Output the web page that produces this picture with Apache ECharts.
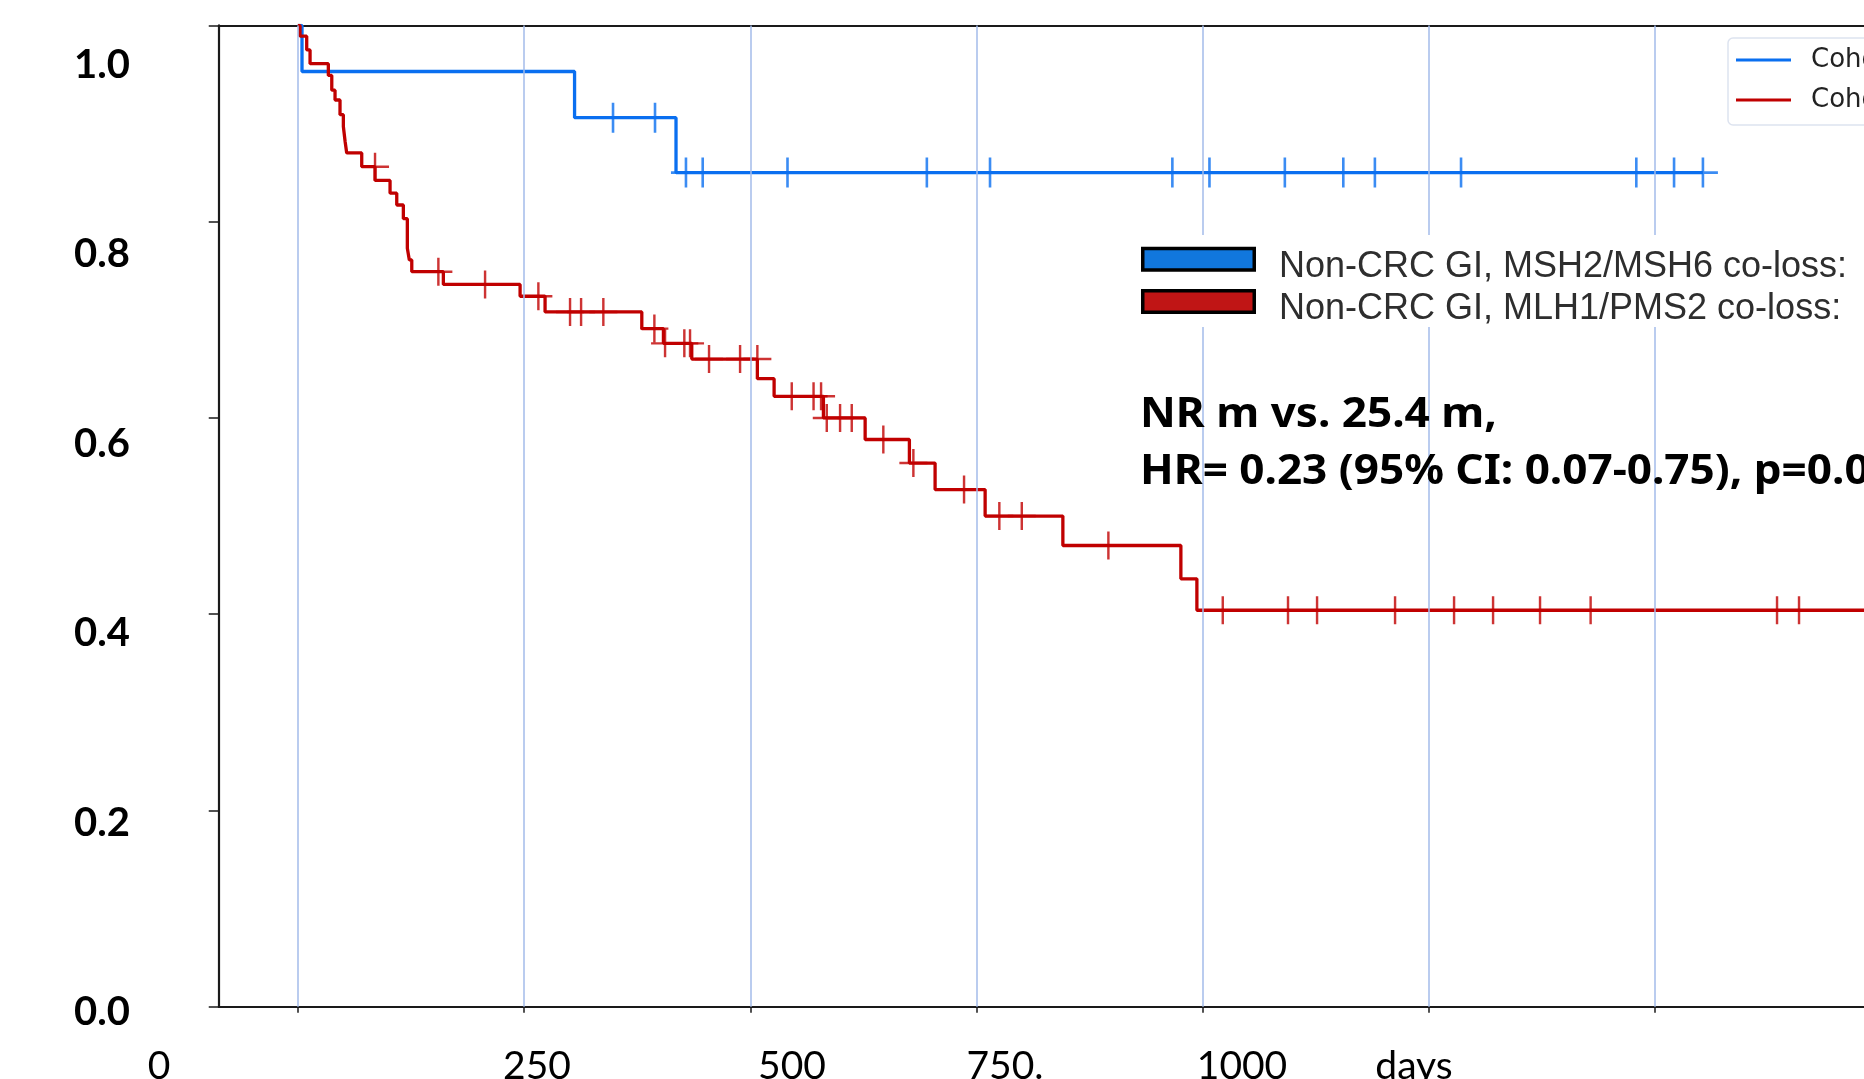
<!DOCTYPE html>
<html>
<head>
<meta charset="utf-8">
<title>Kaplan-Meier</title>
<script src="https://cdn.jsdelivr.net/npm/echarts@6/dist/echarts.min.js"></script>
<style>
  html, body { margin: 0; padding: 0; background: #fff; }
  #chart { width: 1864px; height: 1079px; }
</style>
</head>
<body>
<div id="chart"></div>
<script>
// steps: time in days, survival after each drop
const blueName = 'Cohort 1';
const blueTimes = [4.6, 305.8, 417.9];
const blueSurv = [0.953, 0.906, 0.850];
const blueCensor = [348.3, 394.7, 428.9, 447.4, 541.1, 695.1, 764.9, 966.4, 1007.4, 1090.7,
  1155.3, 1190.2, 1285.4, 1479.1, 1520.8, 1552.7];
const blueEnd = 1552.7;

const redName = 'Cohort 2';
const redTimes = [2.4, 9.8, 13.5, 33.7, 37.5, 41.1, 46.6, 50.3, 52.2, 54.0, 70.6, 85.3, 101.9,
  109.3, 116.6, 121.0, 123.2, 125.9, 160.8, 245.6, 273.2, 380.1, 404.0, 435.3, 507.8, 526.3,
  580.8, 626.9, 675.8, 704.2, 759.5, 845.4, 975.8, 993.5];
const redSurv = [0.989, 0.975, 0.961, 0.949, 0.934, 0.924, 0.909, 0.897, 0.882, 0.870, 0.856,
  0.842, 0.829, 0.817, 0.803, 0.773, 0.761, 0.749, 0.736, 0.724, 0.708, 0.691, 0.676, 0.660,
  0.640, 0.622, 0.600, 0.578, 0.554, 0.527, 0.500, 0.470, 0.436, 0.404];
const redCensor = [85.3, 155.3, 206.9, 265.8, 300.8, 313.0, 337.6, 394.0, 405.8, 427.1, 433.4,
  454.4, 488.7, 507.8, 545.8, 569.9, 578.2, 584.5, 599.2, 612.1, 647.0, 680.2, 736.2, 775.2,
  800.0, 895.7, 1022.1, 1094.2, 1126.3, 1212.5, 1277.7, 1320.8, 1372.7, 1428.6, 1634.6, 1658.9];
const redEnd = 1731;

const xTickDays = [0, 250, 500, 750, 1000, 1250, 1500];
const yTickLabels = ['0.0', '0.2', '0.4', '0.6', '0.8', '1.0'];
const xTickLabels = ['0', '250', '500', '750.', '1000', 'days'];
const insetLabels = ['Non-CRC GI, MSH2/MSH6 co-loss:', 'Non-CRC GI, MLH1/PMS2 co-loss:'];
const noteLines = ['NR m vs. 25.4 m,', 'HR= 0.23 (95% CI: 0.07-0.75), p=0.01'];

// layout (pixels)
const xLabelCenters = [159, 537, 792, 1005, 1242, 1414];
const BLUE = '#0a6ff0';
const RED = '#c00000';
const CROSS = 'path://M13.7,0h2.6v13.7h13.7v2.6h-13.7v13.7h-2.6v-13.7h-13.7v-2.6h13.7z';

function stepData(times, surv, end) {
  const pts = [[0, 1]];
  times.forEach((t, i) => pts.push([t, surv[i]]));
  pts.push([end, surv[surv.length - 1]]);
  return pts;
}

// value of the curve just before time t
function survAt(times, surv, t) {
  let s = 1;
  for (let i = 0; i < times.length; i++) {
    if (times[i] < t) s = surv[i];
  }
  return s;
}

const chart = echarts.init(document.getElementById('chart'));

const graphics = [
  // white patch behind the pasted legend
  { type: 'rect', z: 100, shape: { x: 1128, y: 235, width: 740, height: 92 }, style: { fill: '#fff' } },
  { type: 'rect', z: 101, shape: { x: 1142.75, y: 248.5, width: 111.5, height: 21.5 },
    style: { fill: '#1177dd', stroke: '#000', lineWidth: 3.5 } },
  { type: 'rect', z: 101, shape: { x: 1142.75, y: 290.75, width: 111.5, height: 21.5 },
    style: { fill: '#c01515', stroke: '#000', lineWidth: 3.5 } }
];
insetLabels.forEach((t, i) => {
  graphics.push({ type: 'text', z: 102, x: 1279, y: 267.5 + i * 42,
    style: { text: t, font: '36px "Liberation Sans", Arial, sans-serif', fill: '#2e2e2e',
      textAlign: 'left', textVerticalAlign: 'middle' } });
});
noteLines.forEach((t, i) => {
  graphics.push({ type: 'text', z: 102, x: 1140, y: 415 + i * 57, scaleX: 1.075,
    style: { text: t, font: 'bold 41px "Noto Sans", sans-serif', fill: '#000',
      textAlign: 'left', textVerticalAlign: 'middle' } });
});
xTickLabels.forEach((t, i) => {
  graphics.push({ type: 'text', z: 102, x: xLabelCenters[i], y: 1066,
    style: { text: t, font: '39px Lato, sans-serif', fill: '#000',
      textAlign: 'center', textVerticalAlign: 'middle' } });
});

chart.setOption({
  animation: false,
  backgroundColor: '#fff',
  grid: [
    { left: 218.75, top: 25.4, width: 1645.25, height: 981.3 },
    { left: 140, top: 65, width: 10, height: 947 }
  ],
  xAxis: [
    {
      type: 'value', gridIndex: 0, position: 'bottom', min: -87.4, max: 1730.7,
      axisLine: { show: true, onZero: false, lineStyle: { color: '#1a1a1a', width: 2 } },
      axisTick: { show: true, customValues: xTickDays, length: 6, lineStyle: { color: '#1a1a1a', width: 1.5 } },
      axisLabel: { show: false },
      splitLine: { show: false }
    },
    {
      type: 'value', gridIndex: 0, position: 'top', min: -87.4, max: 1730.7,
      axisLine: { show: true, onZero: false, lineStyle: { color: '#1a1a1a', width: 2 } },
      axisTick: { show: false }, axisLabel: { show: false }, splitLine: { show: false }
    },
    { type: 'value', gridIndex: 1, show: false, min: 0, max: 1 }
  ],
  yAxis: [
    {
      type: 'value', gridIndex: 0, min: 0, max: 1, interval: 0.2,
      axisLine: { show: true, onZero: false, lineStyle: { color: '#1a1a1a', width: 2.2 } },
      axisTick: { show: true, length: 10, lineStyle: { color: '#1a1a1a', width: 1.5 } },
      axisLabel: { show: false },
      splitLine: { show: false }
    },
    {
      type: 'value', gridIndex: 1, min: 0, max: 1, interval: 0.2,
      axisLine: { show: false }, axisTick: { show: false }, splitLine: { show: false },
      axisLabel: {
        margin: 10, color: '#000', fontFamily: 'Lato', fontWeight: 'bold', fontSize: 40,
        formatter: v => yTickLabels[Math.round(v / 0.2)]
      }
    }
  ],
  legend: {
    data: [blueName, redName],
    orient: 'vertical', left: 1728, top: 38,
    padding: [7, 30, 10, 8],
    itemWidth: 55, itemHeight: 3, itemGap: 10, icon: 'rect',
    backgroundColor: '#fff', borderColor: '#dde3ef', borderWidth: 1.5, borderRadius: 5,
    selectedMode: false,
    textStyle: { fontFamily: 'DejaVu Sans', fontSize: 26, color: '#222', lineHeight: 30, padding: [0, 0, 0, 15] }
  },
  graphic: graphics,
  series: [
    {
      name: 'grid', type: 'line', xAxisIndex: 0, yAxisIndex: 0, data: [], z: 1, silent: true,
      markLine: {
        silent: true, symbol: ['none', 'none'], label: { show: false },
        lineStyle: { color: '#a3bbea', width: 1.5, type: 'solid' },
        data: xTickDays.map(d => ({ xAxis: d }))
      }
    },
    {
      name: blueName, type: 'line', step: 'end', showSymbol: false, z: 3,
      data: stepData(blueTimes, blueSurv, blueEnd),
      color: BLUE, lineStyle: { color: BLUE, width: 3.3 }
    },
    {
      name: blueName + ' censored', type: 'scatter', z: 4, symbol: CROSS, symbolSize: 30,
      data: blueCensor.map(t => [t, survAt(blueTimes, blueSurv, t)]),
      itemStyle: { color: BLUE }
    },
    {
      name: redName, type: 'line', step: 'end', showSymbol: false, z: 3,
      data: stepData(redTimes, redSurv, redEnd),
      color: RED, lineStyle: { color: RED, width: 3.3 }
    },
    {
      name: redName + ' censored', type: 'scatter', z: 4, symbol: CROSS, symbolSize: 28,
      data: redCensor.map(t => [t, survAt(redTimes, redSurv, t)]),
      itemStyle: { color: RED }
    }
  ]
});
</script>
</body>
</html>
